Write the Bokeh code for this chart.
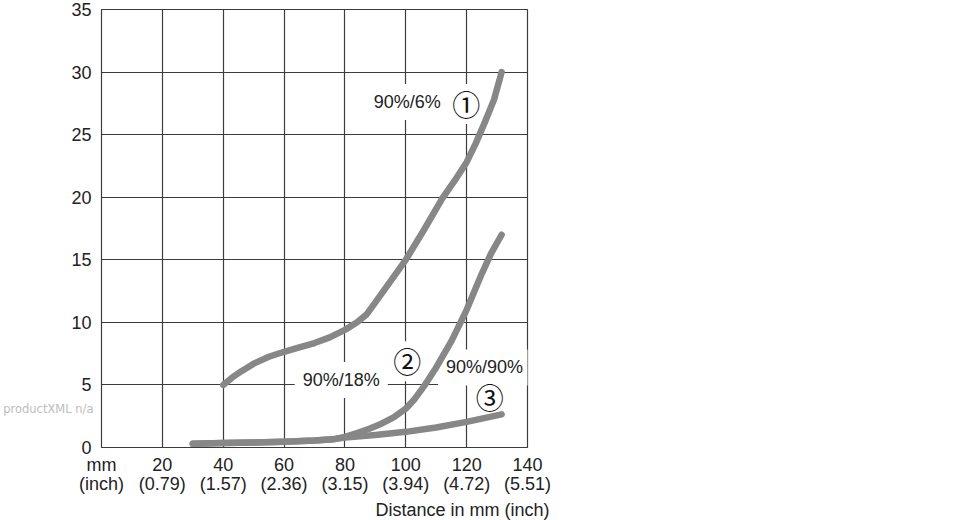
from bokeh.plotting import figure
from bokeh.models import Range1d, FixedTicker, Title, LinearAxis, ColumnDataSource
from bokeh.core.properties import value
from bokeh.embed import file_html
from bokeh.resources import INLINE

# ---- data ----
dist_ticks = [0, 20, 40, 60, 80, 100, 120, 140]
dist_labels = ["mm\n(inch)", "20\n(0.79)", "40\n(1.57)", "60\n(2.36)", "80\n(3.15)",
               "100\n(3.94)", "120\n(4.72)", "140\n(5.51)"]
y_ticks = [0, 5, 10, 15, 20, 25, 30, 35]

# curve 1: 90%/6%
c1_x = [40, 43, 46, 50, 55, 60, 65, 70, 75, 80, 84, 87, 90, 95, 100, 106, 112, 116, 120, 123, 126, 129, 131.5]
c1_y = [5.0, 5.6, 6.1, 6.7, 7.25, 7.65, 8.0, 8.35, 8.8, 9.4, 10.0, 10.6, 11.6, 13.3, 15.0, 17.4, 19.9, 21.3, 22.8, 24.3, 26.0, 27.8, 30.0]
# curve 2: 90%/18%
c2_x = [30, 40, 50, 60, 70, 76, 80, 84, 88, 92, 96, 100, 103, 106, 110, 115, 120, 125, 128, 131.5]
c2_y = [0.3, 0.35, 0.4, 0.45, 0.55, 0.65, 0.85, 1.15, 1.5, 1.9, 2.4, 3.1, 3.9, 4.9, 6.4, 8.5, 11.0, 13.9, 15.5, 17.0]
# curve 3: 90%/90%
c3_x = [30, 40, 50, 60, 70, 76, 80, 85, 90, 100, 110, 120, 131.5]
c3_y = [0.3, 0.35, 0.4, 0.45, 0.55, 0.65, 0.8, 0.9, 1.0, 1.25, 1.6, 2.05, 2.65]

label_text = ["90%/6%", "90%/18%", "90%/90%"]
label_x = [100.5, 78.8, 125.9]
label_y = [27.6, 5.4, 6.4]
marker_text = ["①", "②", "③"]
marker_x = [119.9, 100.5, 127.6]
marker_y = [27.45, 6.9, 4.0]

note_y = [3.1]
note_text = ["productXML n/a"]

FONT = "Liberation Sans"
GRID = "#3c3c3c"
CURVE = "#878787"
TXT = "#222222"

p = figure(width=557, height=520, x_range=Range1d(0, 140), y_range=Range1d(0, 35),
           output_backend="svg", toolbar_location=None,
           min_border_left=101, min_border_right=30, min_border_top=9, min_border_bottom=71)
p.background_fill_color = "white"
p.border_fill_color = "white"
p.outline_line_color = GRID
p.outline_line_width = 1.2

p.xgrid.ticker = FixedTicker(ticks=dist_ticks)
p.ygrid.ticker = FixedTicker(ticks=y_ticks)
for g in (p.xgrid, p.ygrid):
    g.grid_line_color = GRID
    g.grid_line_width = 1.2

p.xaxis.ticker = FixedTicker(ticks=dist_ticks)
p.xaxis.major_label_overrides = {t: s for t, s in zip(dist_ticks, dist_labels)}
p.yaxis.ticker = FixedTicker(ticks=y_ticks)
for ax in (p.xaxis, p.yaxis):
    ax.axis_line_color = None
    ax.major_tick_line_color = None
    ax.minor_tick_line_color = None
    ax.major_tick_out = 0
    ax.major_tick_in = 0
    ax.major_label_text_font = FONT
    ax.major_label_text_font_size = "18px"
    ax.major_label_text_color = TXT
p.xaxis.major_label_text_line_height = 0.95
p.xaxis.major_label_standoff = 7
p.yaxis.major_label_standoff = 10

# faint note at the left edge, as a second left axis with a single tick
note_axis = LinearAxis(ticker=FixedTicker(ticks=note_y),
                       major_label_overrides={note_y[0]: note_text[0]},
                       axis_line_color=None, major_tick_line_color=None,
                       minor_tick_line_color=None, major_tick_out=0, major_tick_in=0,
                       major_label_standoff=-25, major_label_text_font="DejaVu Sans",
                       major_label_text_font_size="11.5px", major_label_text_color="#bdbdbd")
p.add_layout(note_axis, "left")

# labels first, so that their white boxes sit under the curves
lsrc = ColumnDataSource(dict(x=label_x, y=label_y, t=label_text))
p.text(x="x", y="y", text="t", source=lsrc, text_align="center", text_baseline="middle",
       text_font=value(FONT), text_font_size="18px", text_color=TXT,
       background_fill_color="white", padding=8)

msrc = ColumnDataSource(dict(x=marker_x, y=marker_y, t=marker_text))
p.text(x="x", y="y", text="t", source=msrc, text_align="center", text_baseline="middle",
       text_font=value("Noto Sans CJK JP"), text_font_size="28px", text_color="#111111",
       background_fill_color="white")

for xs, ys in ((c3_x, c3_y), (c2_x, c2_y), (c1_x, c1_y)):
    p.line(xs, ys, line_color=CURVE, line_width=6.5, line_cap="round", line_join="round")

p.add_layout(Title(text="Distance in mm (inch)", align="right", offset=-22,
                   text_font=FONT, text_font_size="18px", text_font_style="normal",
                   text_color=TXT, standoff=2), "below")

open("out.html", "w").write(file_html(p, INLINE))
